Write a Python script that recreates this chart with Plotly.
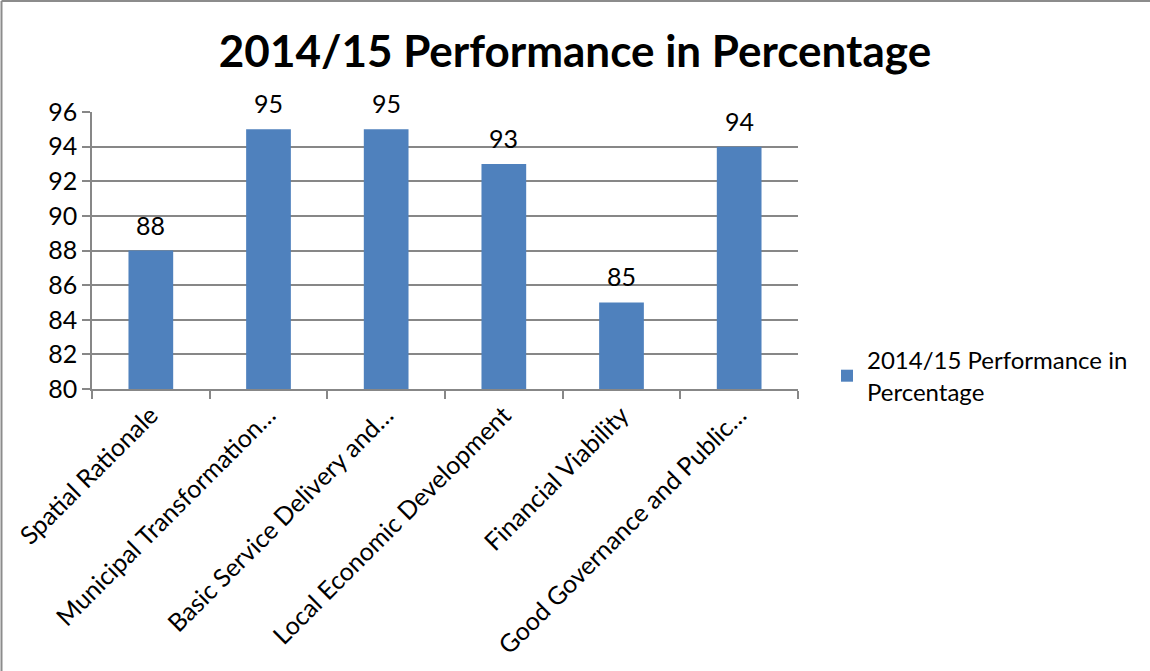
import plotly.graph_objects as go

# ---------------------------------------------------------------------------
# Data
# ---------------------------------------------------------------------------
categories = [
    "Spatial Rationale",
    "Municipal Transformation…",
    "Basic Service Delivery and…",
    "Local Economic Development",
    "Financial Viability",
    "Good Governance and Public…",
]
performance = [88, 95, 95, 93, 85, 94]
series_name = "2014/15 Performance in<br>Percentage"

BAR_COLOR = "#4F81BD"
GRID = "#878787"
FONT = "Lato, 'Open Sans', sans-serif"
FS = 25

fig = go.Figure(
    go.Bar(
        x=categories,
        y=performance,
        name=series_name,
        marker=dict(color=BAR_COLOR, line=dict(width=0)),
        showlegend=True,
    )
)

# value labels above the bars
for cat, val in zip(categories, performance):
    fig.add_annotation(
        x=cat, y=val, text=str(val), showarrow=False,
        yanchor="bottom", yshift=9, font=dict(size=FS, color="#000000"),
    )

W, H = 1150, 671
L, R, T, B = 92, 352, 112, 282
pw, ph = W - L - R, H - T - B

fig.update_layout(
    width=W,
    height=H,
    paper_bgcolor="white",
    plot_bgcolor="white",
    font=dict(family=FONT, size=FS, color="#000000"),
    title=dict(
        text="<b>2014/15 Performance in Percentage</b>",
        font=dict(size=44, color="#000000"),
        x=0.5,
        xanchor="center",
        y=1 - 52 / H,
        yanchor="middle",
    ),
    margin=dict(l=L, r=R, t=T, b=B, autoexpand=False),
    bargap=0.62,
    legend=dict(
        x=(827 - L) / pw,
        y=(389 - 376) / ph,
        xanchor="left",
        yanchor="middle",
        font=dict(size=24),
        itemwidth=30,
        bgcolor="rgba(0,0,0,0)",
    ),
    xaxis=dict(
        tickangle=-45,
        showline=True,
        linecolor=GRID,
        linewidth=1.5,
        ticks="outside",
        tickson="boundaries",
        ticklen=8,
        tickcolor=GRID,
        tickwidth=1.5,
        showgrid=False,
        tickfont=dict(size=FS),
    ),
    yaxis=dict(
        range=[80, 96],
        dtick=2,
        showline=True,
        linecolor=GRID,
        linewidth=1.5,
        ticks="outside",
        ticklen=8,
        tickcolor=GRID,
        tickwidth=1.5,
        showgrid=True,
        gridcolor=GRID,
        gridwidth=1.5,
        zeroline=False,
        tickfont=dict(size=FS),
    ),
    shapes=[
        # chart-area border (left and top edges)
        dict(type="line", xref="paper", yref="paper",
             x0=(1.5 - L) / pw, x1=(1.5 - L) / pw, y0=-B / ph, y1=(H - B - 1) / ph,
             line=dict(color="#8C8C8C", width=2)),
        dict(type="line", xref="paper", yref="paper",
             x0=(1.5 - L) / pw, x1=(W - L) / pw, y0=(H - B - 1) / ph, y1=(H - B - 1) / ph,
             line=dict(color="#8C8C8C", width=2)),
    ],
)

fig.write_html(
    "out.html",
    config={"displayModeBar": False},
    post_script="document.body.style.margin='0';",
)
